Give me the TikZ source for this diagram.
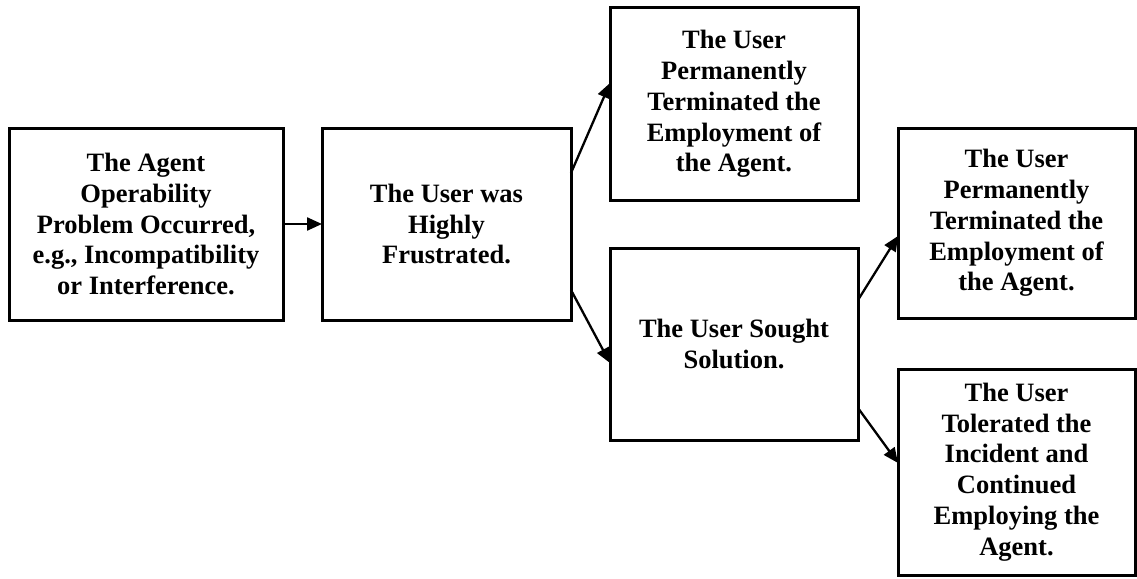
\documentclass[tikz,border=0pt]{standalone}
\usepackage{fontspec}
\setmainfont{Liberation Serif}
\usetikzlibrary{calc,arrows.meta}
\tikzset{
  box/.style={draw=black, line width=3pt, inner sep=0pt, outer sep=0pt,
    align=center, font=\bfseries\fontsize{26.5}{30.8}\selectfont, text=black},
  conn/.style={line width=2.3pt, -{Triangle[length=15pt,width=13pt]}}
}
\begin{document}
\begin{tikzpicture}[x=1pt,y=-1pt]
\useasboundingbox (0,0) rectangle (1137,578);
\node[box, minimum width=274pt, minimum height=192pt] (b1) at (146,224)
  {The Agent\\Operability\\Problem Occurred,\\e.g., Incompatibility\\or Interference.};
\node[box, minimum width=249pt, minimum height=192pt] (b2) at (446.5,224)
  {The User was\\Highly\\Frustrated.};
\node[box, minimum width=248pt, minimum height=192pt] (b3) at (734,104)
  {The User\\Permanently\\Terminated the\\Employment of\\the Agent.};
\node[box, minimum width=248pt, minimum height=192pt] (b4) at (734,344)
  {The User Sought\\Solution.};
\node[box, minimum width=237pt, minimum height=190pt] (b5) at (1016.5,223)
  {The User\\Permanently\\Terminated the\\Employment of\\the Agent.};
\node[box, minimum width=237pt, minimum height=206pt] (b6) at (1016.5,472)
  {The User\\Tolerated the\\Incident and\\Continued\\Employing the\\Agent.};
\draw[conn] (b1.east) -- (b2.west);
\draw[conn] ($(b2.north east)+(0,45)$) -- ($(b3.north west)+(0,75)$);
\draw[conn] ($(b2.south east)+(0,-30)$) -- ($(b4.north west)+(0,115)$);
\draw[conn] ($(b4.north east)+(0,52)$) -- ($(b5.north west)+(0,108)$);
\draw[conn] ($(b4.south east)+(0,-32)$) -- ($(b6.north west)+(0,94)$);
\end{tikzpicture}
\end{document}
